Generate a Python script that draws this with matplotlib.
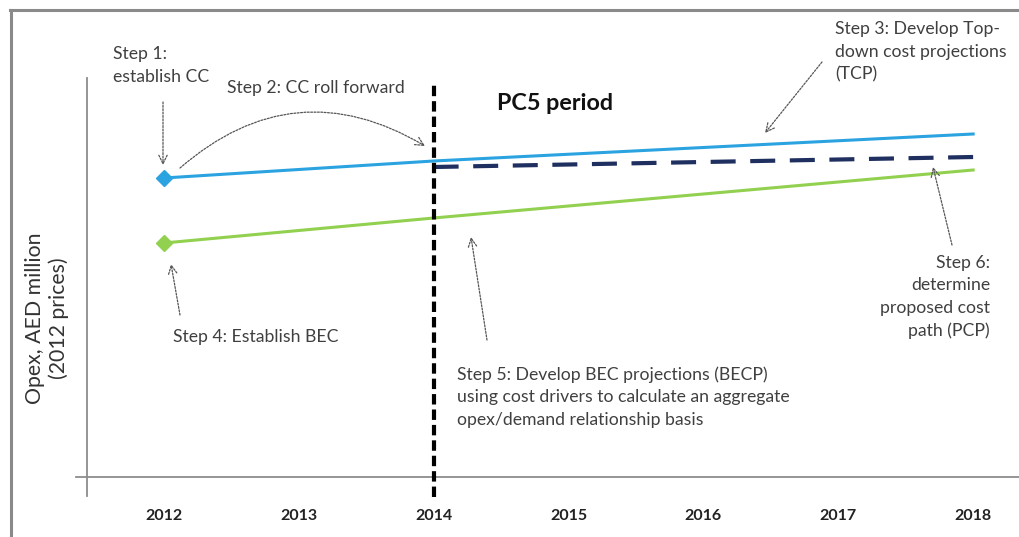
import numpy as np
import matplotlib
matplotlib.use("Agg")
import matplotlib.pyplot as plt
from matplotlib.lines import Line2D

plt.rcParams['font.family'] = ['Lato', 'DejaVu Sans']

# Values (arbitrary opex units)
years = [2012, 2013, 2014, 2015, 2016, 2017, 2018]
cc_years = [2012, 2014, 2018]
cc_values = [29.9, 31.6, 34.3]        # current costs / TCP
bec_years = [2012, 2014, 2018]
bec_values = [23.4, 25.9, 30.7]       # BEC / BECP
pcp_years = [2014, 2018]
pcp_values = [31.0, 32.0]             # proposed cost path
pc5_start = 2014

W, H = 1019, 537
fig = plt.figure(figsize=(W / 100, H / 100), dpi=100)
ax = fig.add_axes([60 / W, 60 / H, (W - 60) / W, 467 / H])
ax.set_xlim(2011.23, 2018.34)
ax.set_ylim(0, 46.7)
for s in ax.spines.values():
    s.set_visible(False)
ax.set_yticks([])
ax.set_xticks(years)
ax.set_xticklabels([str(y) for y in years], fontweight='bold', fontsize=11.5, color='#222222')
ax.tick_params(axis='x', length=0, pad=23)

# axis lines (they overshoot each other like in the original)
ax.plot([2011.35, 2018.34], [0, 0], color='#8c8c8c', lw=1.3, clip_on=False)
ax.plot([2011.43, 2011.43], [-1.9, 39.9], color='#8c8c8c', lw=1.3, clip_on=False)

# series
ax.plot(cc_years, cc_values, color='#2aa3e0', lw=2.2)
ax.plot(cc_years[0], cc_values[0], marker='D', color='#2aa3e0', ms=8)
ax.plot(bec_years, bec_values, color='#92d050', lw=2.2)
ax.plot(bec_years[0], bec_values[0], marker='D', color='#92d050', ms=8)
ax.plot(pcp_years, pcp_values, color='#1f2f5f', lw=3, dashes=(6, 3.5))

# start of PC5 period
ax.plot([pc5_start, pc5_start], [-2.0, 39.4], color='black', lw=3, dashes=(2.5, 1.2), clip_on=False)

fig.text(47 / W, 1 - 318 / H, 'Opex, AED million\n(2012 prices)', rotation=90, ha='center', va='center',
         fontsize=15.3, color='#333333', linespacing=1.2)

# annotations, positions in figure pixels (origin top-left converted)
def px(x, y):
    return (x, H - y)

txt = dict(color='#404040', fontsize=12.7, xycoords='figure pixels', linespacing=1.5)
arrow = dict(arrowstyle='->,head_length=0.6,head_width=0.3', color='#555555', lw=0.9,
             linestyle=(0, (1.5, 1.2)), shrinkA=0, shrinkB=0)

ax.annotate('Step 1:\nestablish CC', xy=px(113, 46), va='top', ha='left', **txt)
ax.annotate('', xy=px(163, 165), xytext=px(163, 102), xycoords='figure pixels', arrowprops=arrow)

ax.annotate('Step 2: CC roll forward', xy=px(227, 88), va='center', ha='left', **txt)
ax.annotate('', xy=px(425, 146), xytext=px(180, 168), xycoords='figure pixels',
            arrowprops=dict(arrow, connectionstyle='arc3,rad=-0.36'))

ax.annotate('PC5 period', xy=px(497, 104), va='center', ha='left', xycoords='figure pixels',
            fontsize=16.8, fontweight='bold', color='#111111')

ax.annotate('Step 3: Develop Top-\ndown cost projections\n(TCP)', xy=px(835, 21), va='top', ha='left', **txt)
ax.annotate('', xy=px(765, 133), xytext=px(822, 62), xycoords='figure pixels', arrowprops=arrow)

ax.annotate('Step 4: Establish BEC', xy=px(173, 337), va='center', ha='left', **txt)
ax.annotate('', xy=px(171, 264), xytext=px(180, 315), xycoords='figure pixels', arrowprops=arrow)

ax.annotate('Step 5: Develop BEC projections (BECP)\nusing cost drivers to calculate an aggregate\nopex/demand relationship basis',
            xy=px(457, 366), va='top', ha='left', **txt)
ax.annotate('', xy=px(471, 237), xytext=px(487, 340), xycoords='figure pixels', arrowprops=arrow)

ax.annotate('Step 6:\ndetermine\nproposed cost\npath (PCP)', xy=px(990, 255), va='top', ha='right', **txt)
ax.annotate('', xy=px(933, 167), xytext=px(952, 245), xycoords='figure pixels', arrowprops=arrow)

# outer frame of the original picture (cut off at right and bottom)
fig.add_artist(Line2D([10 / W, 1.0], [1 - 10 / H, 1 - 10 / H], color='#8a8a8a', lw=2.2))
fig.add_artist(Line2D([11 / W, 11 / W], [0, 1 - 10 / H], color='#8a8a8a', lw=2.2))

fig.savefig('out.png', dpi=100)
